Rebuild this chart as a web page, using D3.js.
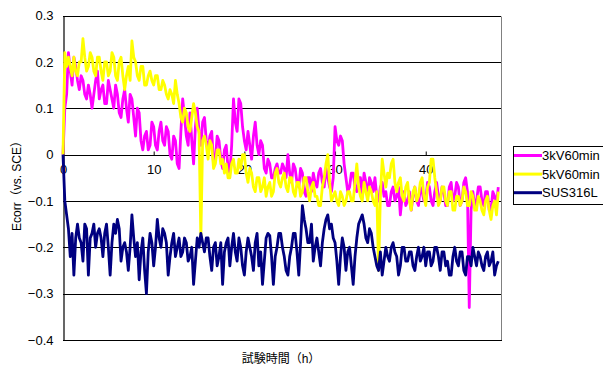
<!DOCTYPE html>
<html>
<head>
<meta charset="utf-8">
<script src="https://cdn.jsdelivr.net/npm/d3@7"></script>
<style>
html,body{margin:0;padding:0;background:#fff;}
svg{display:block;}
text{font-family:"Liberation Sans","Noto Sans CJK JP",Arial,sans-serif;fill:#000;}
</style>
</head>
<body>
<svg id="chart" width="603" height="365"></svg>
<script>
// ---- data ----
const timeStep = 0.2; // hours between samples
const seriesNames = ["3kV60min", "5kV60min", "SUS316L"];
const seriesColors = ["#FF00FF", "#FFFF00", "#000080"];
const xTicks = [0, 10, 20, 30, 40];
const yTicks = [-0.4, -0.3, -0.2, -0.1, 0, 0.1, 0.2, 0.3];

const kv3 = [
 0.0, 0.10, 0.13, 0.22, 0.18, 0.15, 0.21, 0.19, 0.16, 0.14,
 0.17, 0.16, 0.13, 0.12, 0.15, 0.13, 0.10, 0.13, 0.16, 0.18,
 0.12, 0.14, 0.15, 0.11, 0.11, 0.16, 0.14, 0.12, 0.10, 0.15,
 0.13, 0.09, 0.08, 0.12, 0.14, 0.10, 0.07, 0.13, 0.12, 0.08,
 0.04, 0.10, 0.09, 0.03, 0.01, 0.04, 0.05, 0.01, 0.02, 0.07,
 0.06, 0.02, 0.01, 0.05, 0.07, 0.03, 0.02, 0.06, 0.05, 0.00,
 -0.01, 0.04, 0.03, -0.02, -0.03, 0.05, 0.12, 0.08, 0.04, 0.02,
 0.09, 0.03, -0.02, 0.06, 0.10, 0.05, 0.02, 0.07, 0.08, 0.03,
 0.01, 0.04, 0.05, -0.02, -0.01, 0.04, 0.03, -0.01, -0.03, 0.01,
 0.02, -0.03, -0.04, 0.02, 0.12, 0.07, 0.05, 0.12, 0.11, 0.06,
 0.03, 0.01, 0.05, 0.02, -0.01, 0.04, 0.07, 0.02, 0.00, 0.03,
 0.02, -0.03, -0.04, -0.01, -0.02, -0.05, -0.05, -0.03, -0.02, -0.04,
 -0.04, -0.02, -0.03, -0.05, 0.00, -0.04, -0.06, -0.02, -0.03, -0.06,
 -0.07, -0.03, -0.04, -0.08, -0.09, -0.05, -0.05, -0.08, -0.04, -0.06,
 -0.07, -0.04, -0.03, -0.06, -0.07, -0.03, -0.05, -0.07, -0.08, -0.05,
 0.06, 0.03, 0.02, 0.04, 0.03, -0.02, -0.05, -0.08, -0.07, -0.04,
 -0.04, -0.07, -0.08, -0.05, -0.05, -0.09, -0.04, -0.06, -0.09, -0.05,
 -0.06, -0.08, -0.05, -0.09, -0.10, -0.07, -0.06, -0.09, -0.08, -0.11,
 -0.11, -0.08, -0.07, -0.10, -0.09, -0.07, -0.13, -0.09, -0.08, -0.11,
 -0.10, -0.08, -0.12, -0.09, -0.07, -0.10, -0.11, -0.07, -0.08, -0.10,
 -0.10, -0.06, -0.07, -0.10, -0.11, -0.08, -0.06, -0.09, -0.10, -0.07,
 -0.08, -0.11, -0.11, -0.07, -0.06, -0.10, -0.09, -0.06, -0.07, -0.11,
 -0.10, -0.06, -0.05, -0.08, -0.33, -0.12, -0.08, -0.11, -0.10, -0.07,
 -0.07, -0.10, -0.11, -0.08, -0.08, -0.12, -0.12, -0.08, -0.09, -0.11,
 -0.07];

const kv5 = [
 0.0, 0.22, 0.19, 0.21, 0.19, 0.17, 0.21, 0.18, 0.17, 0.20,
 0.20, 0.25, 0.21, 0.18, 0.19, 0.22, 0.21, 0.18, 0.17, 0.21,
 0.21, 0.18, 0.16, 0.20, 0.20, 0.17, 0.18, 0.22, 0.21, 0.17,
 0.16, 0.20, 0.21, 0.17, 0.14, 0.17, 0.19, 0.16, 0.245, 0.21,
 0.20, 0.17, 0.16, 0.19, 0.19, 0.15, 0.15, 0.17, 0.18, 0.16,
 0.15, 0.17, 0.17, 0.14, 0.14, 0.16, 0.15, 0.13, 0.12, 0.14,
 0.13, 0.11, 0.16, 0.13, 0.11, 0.08, 0.07, 0.10, 0.09, 0.06,
 0.05, 0.08, 0.11, 0.09, 0.06, 0.05, -0.18, 0.03, 0.04, 0.02,
 -0.01, 0.03, 0.02, -0.03, -0.02, 0.01, 0.01, -0.02, -0.01, -0.04,
 -0.02, -0.05, -0.05, -0.02, -0.01, -0.04, -0.04, -0.01, -0.03, 0.00,
 0.00, -0.04, -0.06, -0.03, -0.04, -0.07, -0.08, -0.05, -0.05, -0.08,
 -0.07, -0.05, -0.09, -0.07, -0.06, -0.09, -0.08, -0.04, -0.03, -0.06,
 -0.07, -0.05, -0.04, -0.07, -0.08, -0.05, -0.05, -0.08, -0.09, -0.06,
 -0.06, -0.09, -0.08, -0.05, -0.05, -0.08, -0.10, -0.07, -0.06, -0.09,
 -0.09, -0.11, -0.11, -0.07, -0.05, -0.02, 0.00, -0.06, -0.10, -0.09,
 -0.08, -0.10, -0.11, -0.08, -0.09, -0.11, -0.10, -0.08, -0.08, -0.10,
 -0.10, -0.06, -0.02, -0.07, -0.09, -0.10, -0.06, -0.08, -0.10, -0.07,
 -0.08, -0.10, -0.11, -0.08, -0.25, -0.09, -0.01, -0.04, -0.07, -0.04,
 -0.05, -0.02, -0.01, -0.06, -0.08, -0.06, -0.05, -0.09, -0.10, -0.07,
 -0.06, -0.10, -0.12, -0.08, -0.07, -0.10, -0.09, -0.06, -0.05, -0.09,
 -0.11, -0.07, -0.06, -0.01, -0.01, -0.05, -0.08, -0.11, -0.10, -0.07,
 -0.07, -0.10, -0.11, -0.08, -0.08, -0.12, -0.12, -0.09, -0.09, -0.11,
 -0.10, -0.07, -0.08, -0.11, -0.11, -0.08, -0.09, -0.12, -0.12, -0.09,
 -0.10, -0.12, -0.13, -0.10, -0.09, -0.12, -0.14, -0.11, -0.10, -0.13,
 -0.08];

const sus316l = [
 0.0, -0.10, -0.13, -0.16, -0.22, -0.17, -0.26, -0.18, -0.15, -0.18,
 -0.19, -0.23, -0.15, -0.16, -0.26, -0.18, -0.17, -0.15, -0.20, -0.17,
 -0.16, -0.18, -0.22, -0.17, -0.15, -0.20, -0.26, -0.19, -0.15, -0.17,
 -0.14, -0.16, -0.23, -0.20, -0.19, -0.21, -0.25, -0.20, -0.13, -0.18,
 -0.22, -0.19, -0.27, -0.21, -0.18, -0.25, -0.30, -0.21, -0.17, -0.19,
 -0.24, -0.20, -0.14, -0.18, -0.20, -0.16, -0.17, -0.19, -0.26, -0.22,
 -0.19, -0.17, -0.22, -0.20, -0.18, -0.22, -0.21, -0.18, -0.19, -0.23,
 -0.22, -0.20, -0.28, -0.23, -0.18, -0.20, -0.17, -0.19, -0.21, -0.18,
 -0.18, -0.22, -0.25, -0.20, -0.19, -0.24, -0.22, -0.19, -0.28, -0.21,
 -0.19, -0.18, -0.24, -0.20, -0.17, -0.21, -0.23, -0.18, -0.20, -0.24,
 -0.26, -0.21, -0.18, -0.20, -0.22, -0.25, -0.19, -0.17, -0.24, -0.21,
 -0.28, -0.23, -0.18, -0.17, -0.175, -0.22, -0.28, -0.22, -0.20, -0.17,
 -0.17, -0.20, -0.22, -0.25, -0.26, -0.22, -0.20, -0.17, -0.17, -0.21,
 -0.26, -0.19, -0.11, -0.14, -0.16, -0.19, -0.19, -0.15, -0.23, -0.20,
 -0.18, -0.21, -0.24, -0.19, -0.16, -0.14, -0.13, -0.16, -0.15, -0.18,
 -0.19, -0.23, -0.28, -0.22, -0.18, -0.20, -0.25, -0.21, -0.20, -0.24,
 -0.28, -0.22, -0.18, -0.15, -0.14, -0.13, -0.15, -0.18, -0.19, -0.16,
 -0.17, -0.20, -0.22, -0.24, -0.25, -0.21, -0.26, -0.23, -0.20, -0.22,
 -0.23, -0.20, -0.19, -0.21, -0.22, -0.26, -0.24, -0.20, -0.20, -0.23,
 -0.23, -0.21, -0.21, -0.24, -0.25, -0.22, -0.20, -0.23, -0.22, -0.20,
 -0.24, -0.21, -0.21, -0.24, -0.23, -0.20, -0.20, -0.22, -0.25, -0.21,
 -0.21, -0.24, -0.23, -0.26, -0.26, -0.22, -0.20, -0.23, -0.24, -0.21,
 -0.21, -0.25, -0.26, -0.22, -0.22, -0.24, -0.20, -0.22, -0.24, -0.21,
 -0.22, -0.24, -0.25, -0.22, -0.21, -0.24, -0.23, -0.21, -0.26, -0.24,
 -0.23];

const seriesValues = [kv3, kv5, sus316l];

// ---- chart ----
const svg = d3.select("#chart");
const plotLeft = 63, plotRight = 501, plotTop = 15.5, plotBottom = 340;

const x = d3.scaleLinear().domain([0, 48.3]).range([plotLeft, plotRight]);
const y = d3.scaleLinear().domain([-0.4, 0.3]).range([plotBottom, plotTop]);

// gridlines
svg.append("g").selectAll("line").data(yTicks.filter(d => d > -0.4)).join("line")
  .attr("x1", plotLeft).attr("x2", plotRight)
  .attr("y1", d => Math.round(y(d)) + 0.5).attr("y2", d => Math.round(y(d)) + 0.5)
  .attr("stroke", "#000").attr("stroke-width", 1);

// right border
svg.append("line").attr("x1", plotRight + 0.5).attr("x2", plotRight + 0.5)
  .attr("y1", Math.round(plotTop) + 0.5).attr("y2", plotBottom)
  .attr("stroke", "#808080").attr("stroke-width", 1);

// bottom border
svg.append("line").attr("x1", plotLeft).attr("x2", plotRight + 1)
  .attr("y1", plotBottom + 0.5).attr("y2", plotBottom + 0.5)
  .attr("stroke", "#000").attr("stroke-width", 1);

// y axis
const yAxis = svg.append("g").attr("transform", `translate(${plotLeft + 0.5},0)`)
  .call(d3.axisLeft(y).tickValues(yTicks).tickSize(0).tickPadding(10)
    .tickFormat(d => d === 0 ? "0" : d3.format(".1f")(d).replace("-", "−")));
yAxis.select(".domain").attr("stroke", "#000").attr("stroke-width", 1.2);
yAxis.selectAll("text").style("font-size", "13px")
  .style("font-family", "'Liberation Sans', Arial, sans-serif").attr("fill", "#000");

// x axis on zero line, ticks pointing up
const xAxis = svg.append("g").attr("transform", `translate(0,${Math.round(y(0)) + 0.5})`)
  .call(d3.axisBottom(x).tickValues(xTicks).tickSizeInner(-4).tickSizeOuter(0).tickPadding(9)
    .tickFormat(d3.format("d")));
xAxis.select(".domain").remove();
xAxis.selectAll("line").attr("stroke", "#000");
xAxis.selectAll("text").style("font-size", "13px")
  .style("font-family", "'Liberation Sans', Arial, sans-serif").attr("fill", "#000");

// series lines
const line = d3.line().x((d, i) => x(i * timeStep)).y(d => y(d));
svg.append("g").selectAll("path").data(seriesValues).join("path")
  .attr("d", d => line(d))
  .attr("fill", "none")
  .attr("stroke", (d, i) => seriesColors[i])
  .attr("stroke-width", 2.8)
  .attr("stroke-linejoin", "round");

// axis titles
svg.append("text")
  .attr("transform", "translate(21,183) rotate(-90)")
  .attr("text-anchor", "middle")
  .style("font-size", "12px")
  .text("Ecorr（vs. SCE）");

svg.append("text")
  .attr("x", 281).attr("y", 363)
  .attr("text-anchor", "middle")
  .style("font-size", "12px")
  .text("試験時間（h）");

// legend
const lg = svg.append("g");
lg.append("rect").attr("x", 513.5).attr("y", 146.5).attr("width", 100).attr("height", 58)
  .attr("fill", "#fff").attr("stroke", "#000").attr("stroke-width", 1);
const items = lg.selectAll("g.item").data(seriesNames).join("g")
  .attr("transform", (d, i) => `translate(0,${155.5 + i * 18.6})`);
items.append("line").attr("x1", 514).attr("x2", 542).attr("y1", 0).attr("y2", 0)
  .attr("stroke", (d, i) => seriesColors[i]).attr("stroke-width", 3);
items.append("text").attr("x", 542).attr("y", 4.5)
  .style("font-size", "13px").text(d => d);
</script>
</body>
</html>
